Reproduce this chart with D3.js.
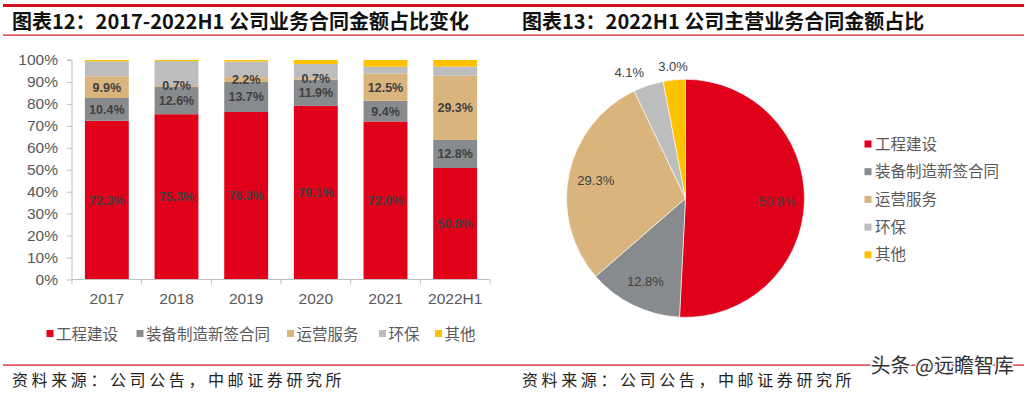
<!DOCTYPE html>
<html><head><meta charset="utf-8">
<script src="https://cdn.jsdelivr.net/npm/d3@7"></script>
<style>
html,body{margin:0;padding:0;background:#fff;}
svg{display:block;}
</style></head>
<body>
<svg id="c" width="1026" height="394"></svg>
<script>
const categories = ["2017","2018","2019","2020","2021","2022H1"];
const seriesNames = ["工程建设","装备制造新签合同","运营服务","环保","其他"];
const colors = ["#e1001a","#888b8d","#dab47d","#bdbdbd","#ffc000"];
const sEngineering = [72.3,75.3,76.3,79.1,72.0,50.8];
const sEquipment   = [10.4,12.6,13.7,11.9,9.4,12.8];
const sOperation   = [9.9,0.7,2.2,0.7,12.5,29.3];
const sEnviron     = [6.8,10.9,7.1,6.5,3.0,4.1];
const sOther       = [0.6,0.5,0.7,1.8,3.1,3.0];
const labelShown   = [[true,true,true,true,true,true],[true,true,true,true,true,true],[true,true,true,true,true,true],[false,false,false,false,false,false],[false,false,false,false,false,false]];
const yTicks = [0,10,20,30,40,50,60,70,80,90,100];
const pieValues = [50.8,12.8,29.3,4.1,3.0];
const title1 = "图表12：2017-2022H1 公司业务合同金额占比变化";
const title2 = "图表13：2022H1 公司主营业务合同金额占比";
const source = "资料来源：公司公告，中邮证券研究所";
const watermark = "头条 @远瞻智库";

const svg = d3.select("#c");
const CJK = "'Noto Sans CJK SC', 'Noto Sans', sans-serif";
const LAT = "'Liberation Sans', Arial, sans-serif";
const txtCol = "#595959";

// frame lines
svg.append("rect").attr("x",3).attr("y",4).attr("width",1021).attr("height",3).attr("fill","#d0121b");
svg.append("rect").attr("x",3).attr("y",34.5).attr("width",1021).attr("height",1.2).attr("fill","#d0121b");
svg.append("rect").attr("x",3).attr("y",364.5).attr("width",1021).attr("height",1.2).attr("fill","#d0121b");

svg.append("text").attr("x",12).attr("y",29).attr("font-family",CJK).attr("font-weight","bold")
  .attr("font-size",20).attr("fill","#111").text(title1);
svg.append("text").attr("x",522).attr("y",29).attr("font-family",CJK).attr("font-weight","bold")
  .attr("font-size",20).attr("fill","#111").text(title2);
[12,522].forEach(x=>{
  svg.append("text").attr("x",x).attr("y",386).attr("font-family",CJK)
    .attr("font-size",16).attr("letter-spacing",3.6).attr("fill","#222").text(source);
});

// ---------- stacked bar ----------
const series = [sEngineering,sEquipment,sOperation,sEnviron,sOther];
const rows = categories.map((c,i)=>{const o={cat:c}; seriesNames.forEach((s,k)=>o[s]=series[k][i]); return o;});
const stack = d3.stack().keys(seriesNames)(rows);

const x = d3.scaleBand().domain(categories).range([72,490]).paddingInner(0.37).paddingOuter(0.185);
const y = d3.scaleLinear().domain([0,100]).range([279.5,60]);
const bandStep = x.step();

const g = svg.append("g");
stack.forEach((layer,k)=>{
  g.selectAll(null).data(layer).join("rect")
    .attr("x",d=>x(d.data.cat)).attr("width",x.bandwidth())
    .attr("y",d=>y(Math.min(d[1],100))).attr("height",d=>y(d[0])-y(Math.min(d[1],100)))
    .attr("fill",colors[k]);
});
stack.forEach((layer,k)=>{
  g.selectAll(null).data(layer.filter((d,i)=>labelShown[k][i])).join("text")
    .attr("x",d=>x(d.data.cat)+x.bandwidth()/2)
    .attr("y",d=>(y(d[0])+y(d[1]))/2+4.5)
    .attr("text-anchor","middle").attr("font-family",LAT).attr("font-weight","bold")
    .attr("font-size",12.5).attr("fill","#404040")
    .text(d=>d3.format(".1f")(d[1]-d[0])+"%");
});

// y axis
const yAxis = d3.axisLeft(y).tickValues(yTicks).tickFormat(d=>d+"%").tickSize(5).tickPadding(9);
const ya = svg.append("g").attr("transform","translate(72,0)").call(yAxis);
ya.select(".domain").attr("stroke","#bfbfbf").attr("d","M-5,60H0V279.5");
ya.selectAll(".tick line").attr("stroke","#bfbfbf");
ya.selectAll(".tick text").attr("font-family",LAT).attr("font-size",15.5).attr("fill",txtCol);

// x axis
const xAxis = d3.axisBottom(x).tickSize(0).tickPadding(13);
const xa = svg.append("g").attr("transform","translate(0,279.5)").call(xAxis);
xa.select(".domain").attr("stroke","#bfbfbf").attr("d","M72,0H490");
xa.selectAll(".tick text").attr("font-family",LAT).attr("font-size",15.5).attr("fill",txtCol);
xa.selectAll(null).data(d3.range(categories.length+1)).join("line")
  .attr("x1",i=>72+i*bandStep).attr("x2",i=>72+i*bandStep).attr("y1",0).attr("y2",5).attr("stroke","#bfbfbf");

// bottom legend
const legPos = [46.5,136.5,287,379,435];
const lg = svg.append("g");
seriesNames.forEach((s,k)=>{
  lg.append("rect").attr("x",legPos[k]).attr("y",330).attr("width",7).attr("height",7).attr("fill",colors[k]);
  lg.append("text").attr("x",legPos[k]+9.5).attr("y",339.5).attr("font-family",CJK).attr("font-size",15.5)
    .attr("fill",txtCol).text(s);
});

// ---------- pie ----------
const cx=685.5, cy=198.3, R=119;
const pie = d3.pie().sort(null).value(d=>d)(pieValues);
const arc = d3.arc().innerRadius(0).outerRadius(R);
const pg = svg.append("g").attr("transform",`translate(${cx},${cy})`);
pg.selectAll("path").data(pie).join("path").attr("d",arc)
  .attr("fill",(d,i)=>colors[i]).attr("stroke","#fff").attr("stroke-width",0.6);
pg.selectAll("text").data(pie).join("text")
  .each(function(d){
    const a=(d.startAngle+d.endAngle)/2;
    const small = (d.endAngle-d.startAngle) < 0.05*2*Math.PI;
    const r = small ? 133 : R*0.77;
    const px = Math.sin(a)*r, py=-Math.cos(a)*r;
    const anchor = small && Math.sin(a) < -0.25 ? "end" : "middle";
    d3.select(this).attr("x",px).attr("y",py+5).attr("text-anchor",anchor);
  })
  .attr("font-family",LAT).attr("font-size",13).attr("fill","#404040")
  .text(d=>d3.format(".1f")(d.data)+"%");

// right legend
const rl = svg.append("g");
seriesNames.forEach((s,k)=>{
  const yy = 144 + k*27.7;
  rl.append("rect").attr("x",864.5).attr("y",yy-3.5).attr("width",7).attr("height",7).attr("fill",colors[k]);
  rl.append("text").attr("x",875).attr("y",yy+5.5).attr("font-family",CJK).attr("font-size",15.5)
    .attr("fill",txtCol).text(s);
});

// watermark
svg.append("text").attr("x",1014).attr("y",373).attr("text-anchor","end").attr("font-family",CJK)
  .attr("font-size",20).attr("fill","#333").attr("stroke","#fff").attr("stroke-width",2.5)
  .attr("paint-order","stroke").text(watermark);
</script>
</body></html>
